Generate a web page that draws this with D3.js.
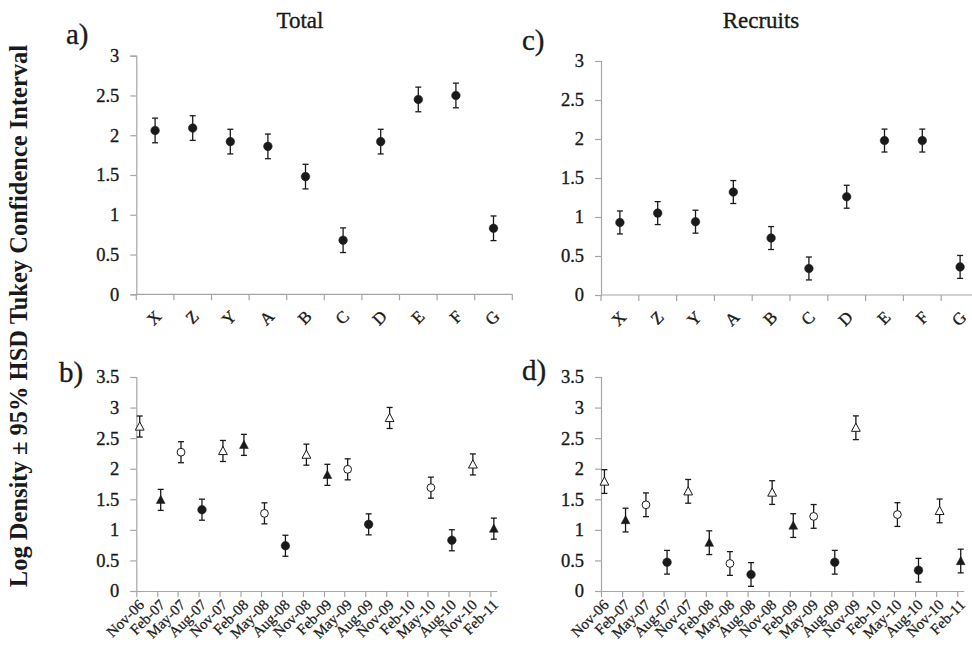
<!DOCTYPE html>
<html>
<head>
<meta charset="utf-8">
<script src="https://cdn.jsdelivr.net/npm/d3@7"></script>
<style>
  body { margin: 0; background: #fff; }
  svg { display: block; }
</style>
</head>
<body>
<div id="chart"></div>
<script>
// Sites (panels a and c)
const sites = ['X', 'Z', 'Y', 'A', 'B', 'C', 'D', 'E', 'F', 'G'];
const totalBySite = [2.06, 2.09, 1.92, 1.86, 1.48, 0.68, 1.92, 2.45, 2.50, 0.83];
const totalBySiteCI = 0.155;
const recruitsBySite = [0.93, 1.05, 0.94, 1.32, 0.73, 0.34, 1.26, 1.98, 1.98, 0.36];
const recruitsBySiteCI = 0.147;

// Sampling dates (panels b and d)
const dateLabels = ['Nov-06', 'Feb-07', 'May-07', 'Aug-07', 'Nov-07', 'Feb-08', 'May-08', 'Aug-08',
    'Nov-08', 'Feb-09', 'May-09', 'Aug-09', 'Nov-09', 'Feb-10', 'May-10', 'Aug-10', 'Nov-10', 'Feb-11'];
const totalByDate = [2.69, 1.49, 2.27, 1.33, 2.29, 2.39, 1.27, 0.74, 2.23, 1.90, 1.99, 1.09,
    2.83, null, 1.69, 0.83, 2.07, 1.02];
const totalByDateCI = 0.172;
const recruitsByDate = [1.79, 1.16, 1.41, 0.47, 1.63, 0.79, 0.45, 0.27, 1.61, 1.07, 1.22, 0.47,
    2.67, null, 1.25, 0.34, 1.31, 0.49];
const recruitsByDateCI = 0.194;

// Marker per sampling month
const monthMarker = { Nov: 'openTriangle', Feb: 'triangle', May: 'openCircle', Aug: 'circle' };

const width = 972, height = 648;
const ink = '#1a1a1a';
const axisGrey = '#a6a6a6';
const serif = '"Liberation Serif"';

const svg = d3.select('#chart')
    .append('svg')
    .attr('width', width)
    .attr('height', height);

const parseLabel = d3.timeParse('%b-%y');

// regular serif text, slightly thickened like the scanned original
function addText(g, size) {
    return g.append('text')
        .style('font-family', serif)
        .style('font-size', size + 'px')
        .attr('fill', ink)
        .attr('stroke', ink)
        .attr('stroke-width', 0.35);
}

function drawYAxis(g, y, ticks, left) {
    const axis = g.append('g')
        .attr('transform', `translate(${left},0)`)
        .call(d3.axisLeft(y).tickValues(ticks).tickSize(6).tickPadding(11).tickFormat(d => d));
    axis.select('.domain').attr('stroke', axisGrey).attr('stroke-width', 1.2);
    axis.selectAll('.tick line').attr('stroke', axisGrey).attr('stroke-width', 1.2);
    axis.selectAll('.tick text')
        .style('font-family', serif)
        .style('font-size', '18.5px')
        .attr('fill', ink)
        .attr('stroke', ink)
        .attr('stroke-width', 0.35);
}

function drawMarker(g, type, cx, cy) {
    if (type === 'circle' || type === 'openCircle') {
        g.append('circle')
            .attr('cx', cx).attr('cy', cy)
            .attr('r', type === 'circle' ? 4.3 : 3.9)
            .attr('fill', type === 'circle' ? ink : '#fff')
            .attr('stroke', ink)
            .attr('stroke-width', type === 'circle' ? 0.5 : 1);
    } else {
        g.append('path')
            .attr('d', 'M0,-4.6L4.4,3.6L-4.4,3.6Z')
            .attr('transform', `translate(${cx},${cy})`)
            .attr('fill', type === 'triangle' ? ink : '#fff')
            .attr('stroke', ink)
            .attr('stroke-width', type === 'triangle' ? 0.5 : 1);
    }
}

function drawErrorBar(g, cx, yTop, yBot) {
    g.append('line')
        .attr('x1', cx).attr('x2', cx).attr('y1', yTop).attr('y2', yBot)
        .attr('stroke', ink).attr('stroke-width', 1.3);
    [yTop, yBot].forEach(yy => {
        g.append('line')
            .attr('x1', cx - 3).attr('x2', cx + 3).attr('y1', yy).attr('y2', yy)
            .attr('stroke', ink).attr('stroke-width', 1.3);
    });
}

function siteChart(cfg) {
    const g = svg.append('g');
    const x = d3.scaleBand().domain(sites).range([cfg.left, cfg.right]);
    const y = d3.scaleLinear().domain([0, 3]).range([cfg.bottom, cfg.top]);

    drawYAxis(g, y, d3.range(0, 3.01, 0.5), cfg.left);

    // x axis line with ticks on the category boundaries
    g.append('line')
        .attr('x1', cfg.left).attr('x2', cfg.right)
        .attr('y1', cfg.bottom).attr('y2', cfg.bottom)
        .attr('stroke', axisGrey).attr('stroke-width', 1.2);
    const bounds = sites.map(s => x(s)).concat([cfg.right]);
    g.selectAll('.xtick')
        .data(bounds)
        .enter()
        .append('line')
        .attr('x1', d => d).attr('x2', d => d)
        .attr('y1', cfg.bottom).attr('y2', cfg.bottom + 6)
        .attr('stroke', axisGrey).attr('stroke-width', 1.2);

    sites.forEach(s => {
        addText(g, 17)
            .attr('transform', `translate(${x(s) + x.bandwidth() / 2 + 3},${cfg.bottom + 19}) rotate(-45)`)
            .attr('text-anchor', 'end')
            .attr('dy', '0.35em')
            .text(s);
    });

    cfg.values.forEach((v, i) => {
        const cx = x(sites[i]) + x.bandwidth() / 2;
        drawErrorBar(g, cx, y(v + cfg.ci), y(v - cfg.ci));
        drawMarker(g, 'circle', cx, y(v));
    });

    addText(g, 23)
        .attr('x', cfg.titleX).attr('y', 28)
        .attr('text-anchor', 'middle')
        .text(cfg.title);

    addText(g, 29)
        .attr('x', cfg.tagX).attr('y', cfg.tagY)
        .text(cfg.tag);
}

function dateChart(cfg) {
    const g = svg.append('g');
    const dates = dateLabels.map(parseLabel);
    const x = d3.scaleTime()
        .domain([dates[0], d3.timeMonth.offset(dates[dates.length - 1], 1)])
        .range([cfg.left, cfg.right]);
    const y = d3.scaleLinear().domain([0, 3.5]).range([cfg.bottom, cfg.top]);

    drawYAxis(g, y, d3.range(0, 3.51, 0.5), cfg.left);

    const axis = g.append('g')
        .attr('transform', `translate(0,${cfg.bottom})`)
        .call(d3.axisBottom(x).tickValues(dates).tickSize(6).tickSizeOuter(0).tickFormat(''));
    axis.select('.domain').attr('stroke', axisGrey).attr('stroke-width', 1.2);
    axis.selectAll('.tick line').attr('stroke', axisGrey).attr('stroke-width', 1.2);

    dates.forEach((d, i) => {
        addText(g, 15)
            .attr('stroke-width', 0.25)
            .attr('transform', `translate(${x(d) + 5},${cfg.bottom + 11}) rotate(-45)`)
            .attr('text-anchor', 'end')
            .attr('dy', '0.35em')
            .text(dateLabels[i]);
    });

    cfg.values.forEach((v, i) => {
        if (v === null) return;
        // samples were taken mid-month
        const cx = x(d3.timeDay.offset(dates[i], 15));
        drawErrorBar(g, cx, y(v + cfg.ci), y(v - cfg.ci));
        drawMarker(g, monthMarker[dateLabels[i].slice(0, 3)], cx, y(v));
    });

    addText(g, 29)
        .attr('x', cfg.tagX).attr('y', cfg.tagY)
        .text(cfg.tag);
}

siteChart({ left: 136.3, right: 512.3, top: 55.7, bottom: 294.3, values: totalBySite,
    ci: totalBySiteCI, title: 'Total', titleX: 300, tag: 'a)', tagX: 66, tagY: 44 });
siteChart({ left: 601, right: 979, top: 61, bottom: 295, values: recruitsBySite,
    ci: recruitsBySiteCI, title: 'Recruits', titleX: 761, tag: 'c)', tagX: 522, tagY: 50 });
dateChart({ left: 136.3, right: 496.8, top: 377, bottom: 591, values: totalByDate,
    ci: totalByDateCI, tag: 'b)', tagX: 59, tagY: 382 });
dateChart({ left: 601, right: 963.7, top: 377, bottom: 591, values: recruitsByDate,
    ci: recruitsByDateCI, tag: 'd)', tagX: 522, tagY: 380 });

// Shared y axis title
addText(svg, 24.5)
    .attr('stroke-width', 0)
    .attr('transform', 'translate(27,316) rotate(-90)')
    .attr('text-anchor', 'middle')
    .style('font-weight', 'bold')
    .text('Log Density \u00b1 95% HSD Tukey Confidence Interval');
</script>
</body>
</html>
